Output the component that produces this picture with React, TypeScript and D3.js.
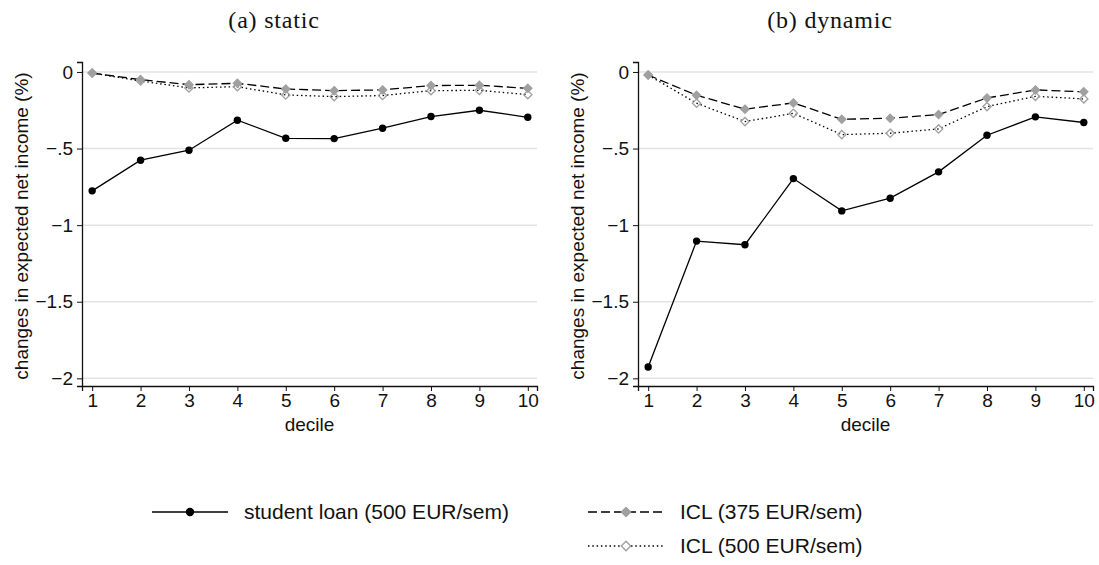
import React, { useEffect, useRef } from "react";
import * as d3 from "d3";

const deciles = [1, 2, 3, 4, 5, 6, 7, 8, 9, 10];
const yTicks = [0, -0.5, -1, -1.5, -2];
const yTickLabels = ["0", "\u2212.5", "\u22121", "\u22121.5", "\u22122"];
const panelTitles = ["(a) static", "(b) dynamic"];

// static
const staticLoan = [-0.776, -0.576, -0.511, -0.315, -0.433, -0.435, -0.367, -0.291, -0.25, -0.296];
const staticIcl375 = [-0.007, -0.05, -0.083, -0.074, -0.111, -0.122, -0.117, -0.089, -0.087, -0.107];
const staticIcl500 = [-0.007, -0.059, -0.104, -0.096, -0.15, -0.161, -0.154, -0.122, -0.12, -0.148];

// dynamic
const dynamicLoan = [-1.926, -1.104, -1.128, -0.696, -0.907, -0.824, -0.652, -0.413, -0.293, -0.33];
const dynamicIcl375 = [-0.02, -0.152, -0.243, -0.202, -0.309, -0.302, -0.278, -0.17, -0.117, -0.13];
const dynamicIcl500 = [-0.02, -0.204, -0.324, -0.27, -0.409, -0.4, -0.372, -0.226, -0.159, -0.176];

const legendLabels = ["student loan (500 EUR/sem)", "ICL (375 EUR/sem)", "ICL (500 EUR/sem)"];

const sans = "'Liberation Sans', Arial, sans-serif";
const serif = "'Liberation Serif', 'Times New Roman', serif";
const gray = "#a0a0a0";

const App = () => {
  const svgRef = useRef<SVGSVGElement>(null);

  useEffect(() => {
    const svg = d3.select(svgRef.current);
    svg.selectAll("*").remove();

    const width = 1099;
    const height = 565;
    svg.attr("width", width).attr("height", height);

    const panels = [
      { loan: staticLoan, i375: staticIcl375, i500: staticIcl500, dx: 0 },
      { loan: dynamicLoan, i375: dynamicIcl375, i500: dynamicIcl500, dx: 556 },
    ];

    const diamond = d3.symbol().type(d3.symbolDiamond2).size(44);

    panels.forEach((p, pi) => {
      const left = 82 + p.dx;
      const right = 537 + p.dx;
      const top = 62;
      const bottom = 386;

      const x = d3.scaleLinear().domain([0.79, 10.19]).range([left, right]);
      const y = d3.scaleLinear().domain([-2.05, 0.065]).range([bottom, top]);

      const g = svg.append("g");

      // panel title
      g.append("text")
        .attr("x", 274 + p.dx)
        .attr("y", 28)
        .attr("text-anchor", "middle")
        .style("font-family", serif)
        .style("font-size", "24px")
        .style("letter-spacing", "0.8px")
        .attr("fill", "#111")
        .text(panelTitles[pi]);

      // grid
      g.selectAll(".grid")
        .data(yTicks)
        .enter()
        .append("line")
        .attr("x1", left)
        .attr("x2", right)
        .attr("y1", (d) => y(d))
        .attr("y2", (d) => y(d))
        .attr("stroke", "#e3e3e3")
        .attr("stroke-width", 1.5);

      const yAxis = g.append("g")
        .attr("transform", `translate(${left},0)`)
        .call(
          d3.axisLeft(y)
            .tickValues(yTicks)
            .tickSizeOuter(0)
            .tickSize(5)
            .tickPadding(4)
            .tickFormat((d, i) => yTickLabels[i])
        );

      const xAxis = g.append("g")
        .attr("transform", `translate(0,${bottom})`)
        .call(
          d3.axisBottom(x)
            .tickValues(deciles)
            .tickSizeOuter(0)
            .tickSize(5)
            .tickPadding(3)
            .tickFormat((d) => String(d))
        );

      [yAxis, xAxis].forEach((a) => {
        a.selectAll("path").attr("stroke", "#111").attr("stroke-width", 1.3);
        a.selectAll("line").attr("stroke", "#111").attr("stroke-width", 1);
        a.selectAll("text")
          .style("font-family", sans)
          .style("font-size", "19px")
          .attr("fill", "#111");
      });

      // axis titles
      g.append("text")
        .attr("x", (left + right) / 2)
        .attr("y", 431)
        .attr("text-anchor", "middle")
        .style("font-family", sans)
        .style("font-size", "19px")
        .attr("fill", "#111")
        .text("decile");

      g.append("text")
        .attr("transform", `translate(${28 + p.dx},${(top + bottom) / 2 + 2}) rotate(-90)`)
        .attr("text-anchor", "middle")
        .style("font-family", sans)
        .style("font-size", "19px")
        .attr("fill", "#111")
        .text("changes in expected net income (%)");

      const line = d3.line<number>()
        .x((d, i) => x(deciles[i]))
        .y((d) => y(d));

      // student loan
      g.append("path")
        .datum(p.loan)
        .attr("fill", "none")
        .attr("stroke", "#000")
        .attr("stroke-width", 1.3)
        .attr("d", line);

      g.selectAll(".dot")
        .data(p.loan)
        .enter()
        .append("circle")
        .attr("cx", (d, i) => x(deciles[i]))
        .attr("cy", (d) => y(d))
        .attr("r", 3.7)
        .attr("fill", "#000");

      // ICL 500 (dotted, hollow)
      g.append("path")
        .datum(p.i500)
        .attr("fill", "none")
        .attr("stroke", "#000")
        .attr("stroke-width", 1.3)
        .attr("stroke-dasharray", "1.5,2.8")
        .attr("d", line);

      g.selectAll(".hollow")
        .data(p.i500)
        .enter()
        .append("path")
        .attr("d", diamond)
        .attr("transform", (d, i) => `translate(${x(deciles[i])},${y(d)})`)
        .attr("fill", "none")
        .attr("stroke", gray)
        .attr("stroke-width", 1.3);

      // ICL 375 (dashed, filled)
      g.append("path")
        .datum(p.i375)
        .attr("fill", "none")
        .attr("stroke", "#000")
        .attr("stroke-width", 1.3)
        .attr("stroke-dasharray", "9,4")
        .attr("d", line);

      g.selectAll(".filled")
        .data(p.i375)
        .enter()
        .append("path")
        .attr("d", diamond)
        .attr("transform", (d, i) => `translate(${x(deciles[i])},${y(d)})`)
        .attr("fill", gray)
        .attr("stroke", gray)
        .attr("stroke-width", 1.2);
    });

    // legend
    const legend = svg.append("g");
    const items = [
      { x: 152, y: 512, dash: null, marker: "circle" },
      { x: 588, y: 512, dash: "9,4", marker: "filled" },
      { x: 588, y: 546, dash: "1.5,2.8", marker: "hollow" },
    ];
    const keyW = 76;
    items.forEach((it, i) => {
      legend.append("line")
        .attr("x1", it.x)
        .attr("x2", it.x + keyW)
        .attr("y1", it.y)
        .attr("y2", it.y)
        .attr("stroke", "#000")
        .attr("stroke-width", i === 0 ? 1.6 : 1.3)
        .attr("stroke-dasharray", it.dash);
      if (it.marker === "circle") {
        legend.append("circle")
          .attr("cx", it.x + keyW / 2)
          .attr("cy", it.y)
          .attr("r", 4.2)
          .attr("fill", "#000");
      } else {
        legend.append("path")
          .attr("d", d3.symbol().type(d3.symbolDiamond2).size(56))
          .attr("transform", `translate(${it.x + keyW / 2},${it.y})`)
          .attr("fill", it.marker === "filled" ? gray : "#fff")
          .attr("stroke", gray)
          .attr("stroke-width", it.marker === "filled" ? 1.2 : 1.4);
      }
      legend.append("text")
        .attr("x", it.x + keyW + 16)
        .attr("y", it.y)
        .attr("dy", "0.35em")
        .style("font-family", sans)
        .style("font-size", "21px")
        .attr("fill", "#111")
        .text(legendLabels[i]);
    });
  }, []);

  return (
    <div style={{ position: "absolute", left: 0, top: 0 }}>
      <svg ref={svgRef}></svg>
    </div>
  );
};

export default App;
